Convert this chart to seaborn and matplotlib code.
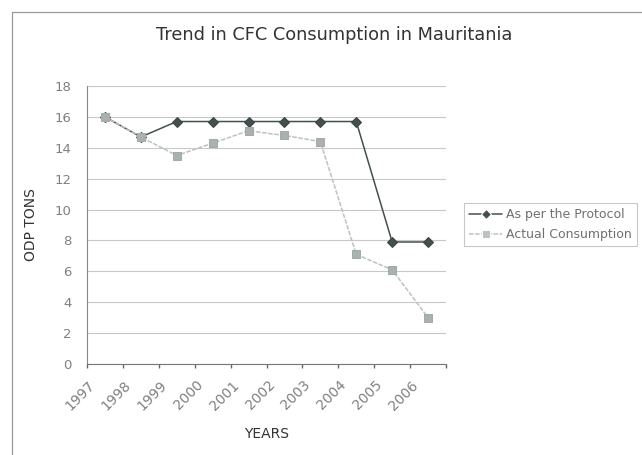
import matplotlib
matplotlib.use("Agg")
import matplotlib.pyplot as plt
import matplotlib.transforms as mtransforms
import seaborn as sns
import pandas as pd
from matplotlib.patches import Rectangle

years = ["1997", "1998", "1999", "2000", "2001", "2002", "2003", "2004", "2005", "2006"]
protocol = [16.0, 14.7, 15.7, 15.7, 15.7, 15.7, 15.7, 15.7, 7.9, 7.9]
actual = [16.0, 14.7, 13.5, 14.3, 15.1, 14.8, 14.4, 7.1, 6.1, 3.0]
series_names = ["As per the Protocol", "Actual Consumption"]
y_ticks = [0, 2, 4, 6, 8, 10, 12, 14, 16, 18]

sns.set_theme(style="white")
plt.rcParams['font.family'] = ['DejaVu Sans']

pos = list(range(len(years)))
df = pd.DataFrame({
    "pos": pos * 2,
    "value": protocol + actual,
    "series": [series_names[0]] * len(years) + [series_names[1]] * len(years),
})

fig = plt.figure(figsize=(6.42, 4.55), dpi=100)
ax = fig.add_axes([87/642, 1-364/455, (446-87)/642, (364-86)/455])

palette = {series_names[0]: "#44504f", series_names[1]: "#bcc1c1"}
sns.lineplot(data=df, x="pos", y="value", hue="series", style="series",
             markers={series_names[0]: "D", series_names[1]: "s"},
             dashes={series_names[0]: "", series_names[1]: (3, 1)},
             palette=palette, markersize=5.5, linewidth=1.1, ax=ax,
             sort=False, legend=True)
for line, mec, mfc in zip(ax.lines[:2], ["#3a4544", "#a3aaaa"], ["#44504f", "#aab1b1"]):
    line.set_markeredgecolor(mec)
    line.set_markerfacecolor(mfc)

ax.set_xlim(-0.5, len(years) - 0.5)
ax.set_ylim(0, 18)
ax.set_yticks(y_ticks)
ax.set_yticklabels([str(t) for t in y_ticks], color="#808080", fontsize=9.5)
ax.yaxis.grid(True, color="#c8c8c8", linewidth=0.8)
ax.set_axisbelow(True)

ax.set_xticks(pos)
ax.set_xticklabels(years, rotation=45, ha="right", va="top",
                   color="#808080", fontsize=10)
ax.set_xticks([p - 0.5 for p in pos] + [len(years) - 0.5], minor=True)
ax.tick_params(axis="x", which="major", length=0, pad=10)
ax.tick_params(axis="x", which="minor", length=3, color="#666666", direction="out", bottom=True)
ax.tick_params(axis="y", length=0, pad=11)

offset = mtransforms.ScaledTranslation(-7/100, 0, fig.dpi_scale_trans)
for lbl in ax.get_xticklabels():
    lbl.set_transform(lbl.get_transform() + offset)

for side in ["top", "right"]:
    ax.spines[side].set_visible(False)
ax.spines["left"].set_color("#888888")
ax.spines["bottom"].set_color("#777777")
ax.spines["left"].set_linewidth(0.8)
ax.spines["bottom"].set_linewidth(0.8)

ax.set_xlabel("YEARS", fontsize=10, color="#333333", labelpad=10)
ax.set_ylabel("ODP TONS", fontsize=10, color="#333333", labelpad=12)

fig.text(334/642, 1-35/455, "Trend in CFC Consumption in Mauritania",
         ha="center", va="center", fontsize=12.8, color="#333333")

leg = ax.legend(loc="upper left", bbox_to_anchor=(458/642, 1-197/455),
                bbox_transform=fig.transFigure, frameon=True, fontsize=9,
                handlelength=2.6, handletextpad=0.35, borderpad=0.4,
                labelspacing=0.55, fancybox=False)
leg.get_frame().set_edgecolor("#bbbbbb")
leg.get_frame().set_linewidth(0.8)
for t in leg.get_texts():
    t.set_color("#707070")

fig.patches.append(Rectangle((12/642, -0.1), 1.0, 1 - 12/455 + 0.1,
                             transform=fig.transFigure, fill=False,
                             edgecolor="#999999", linewidth=0.9))

fig.savefig("out.png", dpi=100)
